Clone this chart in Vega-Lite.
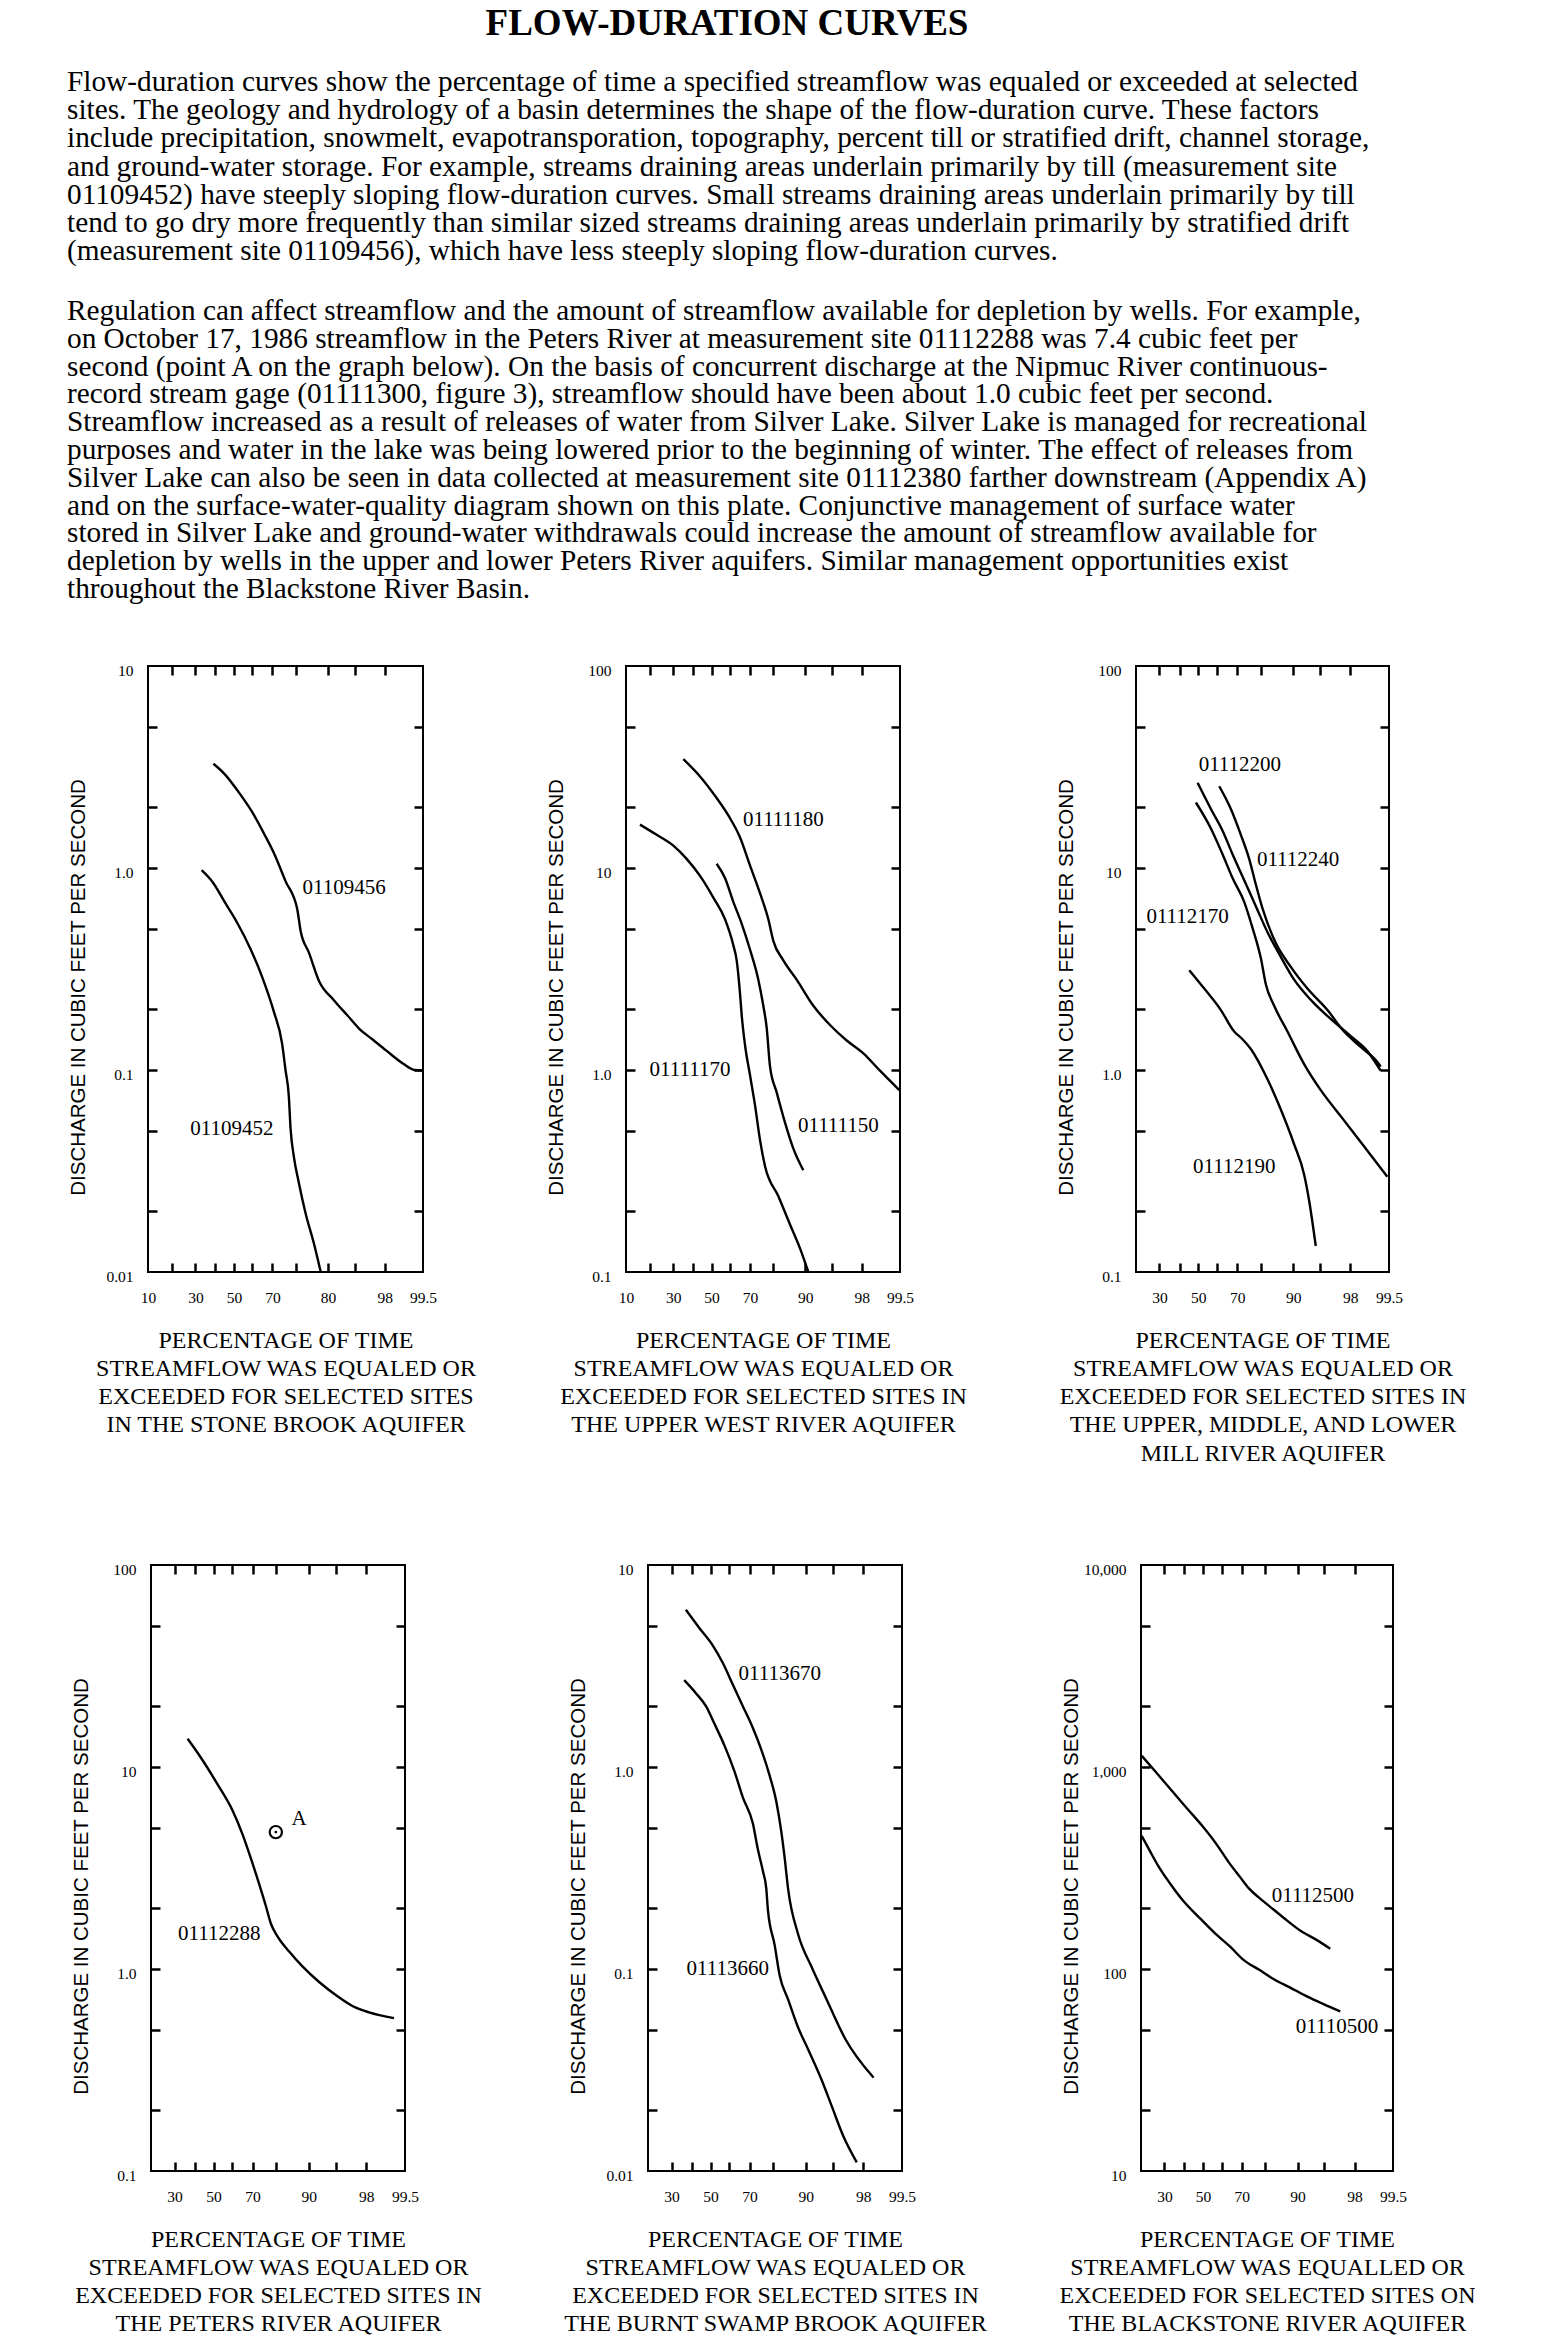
{
  "$schema": "https://vega.github.io/schema/vega-lite/v6.json",
  "padding": 0,
  "background": "white",
  "columns": 6,
  "bounds": "flush",
  "spacing": 0,
  "concat": [
    {
      "width": 1,
      "height": 666,
      "layer": [
        {
          "data": {"values": [{"line": 0, "text": "FLOW-DURATION CURVES"}]},
          "mark": {"type": "text", "align": "center", "baseline": "middle", "font": "Liberation Serif", "fontSize": 37, "fontWeight": "bold", "color": "black"},
          "encoding": {
            "x": {"value": 727},
            "y": {"field": "line", "type": "quantitative", "scale": {"domain": [0, 1], "range": [24, 52]}, "axis": null},
            "text": {"field": "text"}
          }
        },
        {
          "data": {"values": [
            {"line": 0, "text": "Flow-duration curves show the percentage of time a specified streamflow was equaled or exceeded at selected"},
            {"line": 1, "text": "sites.  The geology and hydrology of a basin determines the shape of the flow-duration curve.  These factors"},
            {"line": 2, "text": "include precipitation, snowmelt, evapotransporation, topography, percent till or stratified drift, channel storage,"},
            {"line": 3, "text": "and ground-water storage.  For example, streams draining areas underlain primarily by till (measurement site"},
            {"line": 4, "text": "01109452) have steeply sloping flow-duration curves. Small streams draining areas underlain primarily by till"},
            {"line": 5, "text": "tend to go dry more frequently than similar sized streams draining areas underlain primarily by stratified drift"},
            {"line": 6, "text": "(measurement site 01109456), which have less steeply sloping flow-duration curves."}
          ]},
          "mark": {"type": "text", "align": "left", "baseline": "middle", "font": "Liberation Serif", "fontSize": 29.3, "color": "black"},
          "encoding": {
            "x": {"value": 67},
            "y": {"field": "line", "type": "quantitative", "scale": {"domain": [0, 6], "range": [82, 251]}, "axis": null},
            "text": {"field": "text"}
          }
        },
        {
          "data": {"values": [
            {"line": 0, "text": "Regulation can affect streamflow and the amount of streamflow available for depletion by wells. For example,"},
            {"line": 1, "text": "on October 17, 1986 streamflow in the Peters River at measurement site 01112288 was 7.4 cubic feet per"},
            {"line": 2, "text": "second (point A on the graph below).  On the basis of concurrent discharge at the Nipmuc River continuous-"},
            {"line": 3, "text": "record stream gage (01111300, figure 3), streamflow should have been about 1.0 cubic feet per second."},
            {"line": 4, "text": "Streamflow increased as a result of releases of water from Silver Lake.  Silver Lake is managed for recreational"},
            {"line": 5, "text": "purposes and water in the lake was being lowered prior to the beginning of winter.  The effect of releases from"},
            {"line": 6, "text": "Silver Lake can also be seen in data collected at measurement site 01112380 farther downstream (Appendix A)"},
            {"line": 7, "text": "and on the surface-water-quality diagram shown on this plate.  Conjunctive management of surface water"},
            {"line": 8, "text": "stored in Silver Lake and ground-water withdrawals could increase the amount of streamflow available for"},
            {"line": 9, "text": "depletion by wells in the upper and lower Peters River aquifers.  Similar management opportunities exist"},
            {"line": 10, "text": "throughout the Blackstone River Basin."}
          ]},
          "mark": {"type": "text", "align": "left", "baseline": "middle", "font": "Liberation Serif", "fontSize": 29.3, "color": "black"},
          "encoding": {
            "x": {"value": 67},
            "y": {"field": "line", "type": "quantitative", "scale": {"domain": [0, 10], "range": [311, 589]}, "axis": null},
            "text": {"field": "text"}
          }
        }
      ],
      "resolve": {"scale": {"y": "independent"}}
    },
    {"width": 1, "height": 1, "data": {"values": []}, "mark": {"type": "point", "opacity": 0}, "encoding": {}},
    {"width": 1, "height": 1, "data": {"values": []}, "mark": {"type": "point", "opacity": 0}, "encoding": {}},
    {"width": 1, "height": 1, "data": {"values": []}, "mark": {"type": "point", "opacity": 0}, "encoding": {}},
    {"width": 1, "height": 1, "data": {"values": []}, "mark": {"type": "point", "opacity": 0}, "encoding": {}},
    {"width": 1, "height": 1, "data": {"values": []}, "mark": {"type": "point", "opacity": 0}, "encoding": {}},

    {"width": 148, "height": 1, "data": {"values": []}, "mark": {"type": "point", "opacity": 0}, "encoding": {}},
    {
      "width": 275,
      "height": 606,
      "layer": [
        {
          "data": {"values": [{}]},
          "mark": {"type": "rect", "filled": false, "stroke": "black", "strokeWidth": 2},
          "encoding": {
            "x": {"datum": -1.17, "type": "quantitative", "scale": {"domain": [-1.17, 2.5758], "range": [0, 275], "nice": false, "zero": false}, "axis": null},
            "x2": {"datum": 2.5758},
            "y": {"datum": 0.01, "type": "quantitative", "scale": {"type": "log", "domain": [0.01, 10], "nice": false}, "axis": null},
            "y2": {"datum": 10}
          }
        },
        {
          "data": {"values": [
            {"site": "01109456", "z": -0.279, "q": 3.28}, {"site": "01109456", "z": -0.120, "q": 2.90}, {"site": "01109456", "z": 0.063, "q": 2.38},
            {"site": "01109456", "z": 0.246, "q": 1.90}, {"site": "01109456", "z": 0.406, "q": 1.49}, {"site": "01109456", "z": 0.543, "q": 1.19},
            {"site": "01109456", "z": 0.703, "q": 0.861}, {"site": "01109456", "z": 0.863, "q": 0.625}, {"site": "01109456", "z": 0.909, "q": 0.488},
            {"site": "01109456", "z": 1.022, "q": 0.381}, {"site": "01109456", "z": 1.159, "q": 0.276}, {"site": "01109456", "z": 1.365, "q": 0.221},
            {"site": "01109456", "z": 1.548, "q": 0.186}, {"site": "01109456", "z": 1.708, "q": 0.160}, {"site": "01109456", "z": 1.890, "q": 0.1415},
            {"site": "01109456", "z": 2.073, "q": 0.125}, {"site": "01109456", "z": 2.302, "q": 0.1077}, {"site": "01109456", "z": 2.461, "q": 0.100},
            {"site": "01109456", "z": 2.576, "q": 0.0995},
            {"site": "01109452", "z": -0.439, "q": 0.975}, {"site": "01109452", "z": -0.279, "q": 0.841}, {"site": "01109452", "z": -0.120, "q": 0.673},
            {"site": "01109452", "z": 0.041, "q": 0.539}, {"site": "01109452", "z": 0.223, "q": 0.400}, {"site": "01109452", "z": 0.383, "q": 0.290},
            {"site": "01109452", "z": 0.543, "q": 0.195}, {"site": "01109452", "z": 0.657, "q": 0.1346}, {"site": "01109452", "z": 0.703, "q": 0.100},
            {"site": "01109452", "z": 0.748, "q": 0.0743}, {"site": "01109452", "z": 0.772, "q": 0.0513}, {"site": "01109452", "z": 0.817, "q": 0.0372},
            {"site": "01109452", "z": 0.885, "q": 0.0276}, {"site": "01109452", "z": 0.977, "q": 0.0195}, {"site": "01109452", "z": 1.091, "q": 0.0138},
            {"site": "01109452", "z": 1.183, "q": 0.0100}
          ]},
          "mark": {"type": "line"},
          "encoding": {
            "x": {"field": "z", "type": "quantitative", "scale": {"domain": [-1.17, 2.5758], "range": [0, 275], "nice": false, "zero": false},
              "axis": {"orient": "bottom", "values": [-1.17, -0.8416, -0.5244, -0.2533, 0, 0.2533, 0.5244, 0.8416, 1.2816, 1.6449, 2.0537, 2.5758],
                "labelExpr": "abs(datum.value+1.17)<0.01?'10':abs(datum.value+0.5244)<0.01?'30':abs(datum.value)<0.01?'50':abs(datum.value-0.5244)<0.01?'70':abs(datum.value-1.2816)<0.01?'80':abs(datum.value-2.0537)<0.01?'98':abs(datum.value-2.5758)<0.01?'99.5':''",
                "tickOpacity": {"condition": {"test": "datum.value<-1.1||datum.value>2.5", "value": 0}, "value": 1},
                "title": ["PERCENTAGE OF TIME", "STREAMFLOW WAS EQUALED OR", "EXCEEDED FOR SELECTED SITES", "IN THE STONE BROOK AQUIFER"]}},
            "y": {"field": "q", "type": "quantitative", "scale": {"type": "log", "domain": [0.01, 10], "nice": false},
              "axis": {"orient": "left", "values": [0.01, 0.02, 0.05, 0.1, 0.2, 0.5, 1, 2, 5, 10],
                "labelExpr": "datum.value==0.01?'0.01':datum.value==0.1?'0.1':datum.value==1?'1.0':datum.value==10?'10':''",
                "tickOpacity": {"condition": {"test": "datum.value<0.011||datum.value>9.9", "value": 0}, "value": 1},
                "title": "DISCHARGE IN CUBIC FEET PER SECOND"}},
            "detail": {"field": "site"}
          }
        },
        {
          "data": {"values": [
            {"label": "01109456", "z": 1.502, "q": 0.80},
            {"label": "01109452", "z": -0.027, "q": 0.0513}
          ]},
          "mark": {"type": "text", "align": "center", "baseline": "middle"},
          "encoding": {
            "x": {"field": "z", "type": "quantitative", "scale": {"domain": [-1.17, 2.5758], "range": [0, 275], "nice": false, "zero": false},
              "axis": {"orient": "top", "values": [-0.8416, -0.5244, -0.2533, 0, 0.2533, 0.5244, 0.8416, 1.2816, 1.6449, 2.0537], "labels": false, "title": null}},
            "y": {"field": "q", "type": "quantitative", "scale": {"type": "log", "domain": [0.01, 10], "nice": false},
              "axis": {"orient": "right", "values": [0.02, 0.05, 0.1, 0.2, 0.5, 1, 2, 5], "labels": false, "title": null}},
            "text": {"field": "label"}
          }
        }
      ],
      "resolve": {"axis": {"x": "independent", "y": "independent"}}
    },
    {"width": 203, "height": 1, "data": {"values": []}, "mark": {"type": "point", "opacity": 0}, "encoding": {}},
    {
      "width": 276,
      "height": 606,
      "layer": [
        {
          "data": {"values": [{}]},
          "mark": {"type": "rect", "filled": false, "stroke": "black", "strokeWidth": 2},
          "encoding": {
            "x": {"datum": -1.17, "type": "quantitative", "scale": {"domain": [-1.17, 2.5758], "range": [0, 274], "nice": false, "zero": false}, "axis": null},
            "x2": {"datum": 2.5758},
            "y": {"datum": 0.1, "type": "quantitative", "scale": {"type": "log", "domain": [0.1, 100], "nice": false}, "axis": null},
            "y2": {"datum": 100}
          }
        },
        {
          "data": {"values": [
            {"site": "01111180", "z": -0.386, "q": 34.6}, {"site": "01111180", "z": -0.158, "q": 28.4}, {"site": "01111180", "z": 0.069, "q": 22.2},
            {"site": "01111180", "z": 0.229, "q": 18.2}, {"site": "01111180", "z": 0.388, "q": 14.2}, {"site": "01111180", "z": 0.525, "q": 10.3},
            {"site": "01111180", "z": 0.662, "q": 7.50}, {"site": "01111180", "z": 0.776, "q": 5.58}, {"site": "01111180", "z": 0.844, "q": 4.36},
            {"site": "01111180", "z": 0.981, "q": 3.49}, {"site": "01111180", "z": 1.163, "q": 2.80}, {"site": "01111180", "z": 1.391, "q": 2.08},
            {"site": "01111180", "z": 1.619, "q": 1.67}, {"site": "01111180", "z": 1.847, "q": 1.40}, {"site": "01111180", "z": 2.075, "q": 1.21},
            {"site": "01111180", "z": 2.302, "q": 0.992}, {"site": "01111180", "z": 2.567, "q": 0.795},
            {"site": "01111170", "z": -0.979, "q": 16.4}, {"site": "01111170", "z": -0.751, "q": 14.6}, {"site": "01111170", "z": -0.523, "q": 12.9},
            {"site": "01111170", "z": -0.341, "q": 11.1}, {"site": "01111170", "z": -0.158, "q": 9.14}, {"site": "01111170", "z": 0.024, "q": 7.14},
            {"site": "01111170", "z": 0.183, "q": 5.58}, {"site": "01111170", "z": 0.297, "q": 4.15}, {"site": "01111170", "z": 0.343, "q": 3.49},
            {"site": "01111170", "z": 0.388, "q": 2.41}, {"site": "01111170", "z": 0.411, "q": 1.88}, {"site": "01111170", "z": 0.457, "q": 1.33},
            {"site": "01111170", "z": 0.525, "q": 0.944}, {"site": "01111170", "z": 0.594, "q": 0.668}, {"site": "01111170", "z": 0.662, "q": 0.450},
            {"site": "01111170", "z": 0.730, "q": 0.335}, {"site": "01111170", "z": 0.913, "q": 0.237}, {"site": "01111170", "z": 1.072, "q": 0.172},
            {"site": "01111170", "z": 1.209, "q": 0.131}, {"site": "01111170", "z": 1.323, "q": 0.100},
            {"site": "01111150", "z": 0.069, "q": 10.5}, {"site": "01111150", "z": 0.183, "q": 8.92}, {"site": "01111150", "z": 0.297, "q": 6.80},
            {"site": "01111150", "z": 0.411, "q": 5.31}, {"site": "01111150", "z": 0.525, "q": 3.95}, {"site": "01111150", "z": 0.639, "q": 2.80},
            {"site": "01111150", "z": 0.707, "q": 2.08}, {"site": "01111150", "z": 0.753, "q": 1.62}, {"site": "01111150", "z": 0.799, "q": 1.04},
            {"site": "01111150", "z": 0.890, "q": 0.775}, {"site": "01111150", "z": 1.004, "q": 0.549}, {"site": "01111150", "z": 1.118, "q": 0.408},
            {"site": "01111150", "z": 1.254, "q": 0.319}
          ]},
          "mark": {"type": "line"},
          "encoding": {
            "x": {"field": "z", "type": "quantitative", "scale": {"domain": [-1.17, 2.5758], "range": [0, 274], "nice": false, "zero": false},
              "axis": {"orient": "bottom", "values": [-1.17, -0.8416, -0.5244, -0.2533, 0, 0.2533, 0.5244, 0.8416, 1.2816, 1.6449, 2.0537, 2.5758],
                "labelExpr": "abs(datum.value+1.17)<0.01?'10':abs(datum.value+0.5244)<0.01?'30':abs(datum.value)<0.01?'50':abs(datum.value-0.5244)<0.01?'70':abs(datum.value-1.2816)<0.01?'90':abs(datum.value-2.0537)<0.01?'98':abs(datum.value-2.5758)<0.01?'99.5':''",
                "tickOpacity": {"condition": {"test": "datum.value<-1.1||datum.value>2.5", "value": 0}, "value": 1},
                "title": ["PERCENTAGE OF TIME", "STREAMFLOW WAS EQUALED OR", "EXCEEDED FOR SELECTED SITES IN", "THE UPPER WEST RIVER AQUIFER"]}},
            "y": {"field": "q", "type": "quantitative", "scale": {"type": "log", "domain": [0.1, 100], "nice": false},
              "axis": {"orient": "left", "values": [0.1, 0.2, 0.5, 1, 2, 5, 10, 20, 50, 100],
                "labelExpr": "datum.value==0.1?'0.1':datum.value==1?'1.0':datum.value==10?'10':datum.value==100?'100':''",
                "tickOpacity": {"condition": {"test": "datum.value<0.11||datum.value>99", "value": 0}, "value": 1},
                "title": "DISCHARGE IN CUBIC FEET PER SECOND"}},
            "detail": {"field": "site"}
          }
        },
        {
          "data": {"values": [
            {"label": "01111180", "z": 0.981, "q": 17.2},
            {"label": "01111170", "z": -0.295, "q": 1.0},
            {"label": "01111150", "z": 1.733, "q": 0.528}
          ]},
          "mark": {"type": "text", "align": "center", "baseline": "middle"},
          "encoding": {
            "x": {"field": "z", "type": "quantitative", "scale": {"domain": [-1.17, 2.5758], "range": [0, 274], "nice": false, "zero": false},
              "axis": {"orient": "top", "values": [-0.8416, -0.5244, -0.2533, 0, 0.2533, 0.5244, 0.8416, 1.2816, 1.6449, 2.0537], "labels": false, "title": null}},
            "y": {"field": "q", "type": "quantitative", "scale": {"type": "log", "domain": [0.1, 100], "nice": false},
              "axis": {"orient": "right", "offset": -2, "values": [0.2, 0.5, 1, 2, 5, 10, 20, 50], "labels": false, "title": null}},
            "text": {"field": "label"}
          }
        }
      ],
      "resolve": {"axis": {"x": "independent", "y": "independent"}}
    },
    {"width": 234, "height": 1, "data": {"values": []}, "mark": {"type": "point", "opacity": 0}, "encoding": {}},
    {
      "width": 257,
      "height": 606,
      "layer": [
        {
          "data": {"values": [{}]},
          "mark": {"type": "rect", "filled": false, "stroke": "black", "strokeWidth": 2},
          "encoding": {
            "x": {"datum": -0.8416, "type": "quantitative", "scale": {"domain": [-0.8416, 2.5758], "range": [0, 253], "nice": false, "zero": false}, "axis": null},
            "x2": {"datum": 2.5758},
            "y": {"datum": 0.1, "type": "quantitative", "scale": {"type": "log", "domain": [0.1, 100], "nice": false}, "axis": null},
            "y2": {"datum": 100}
          }
        },
        {
          "data": {"values": [
            {"site": "01112200", "z": -0.0097, "q": 26.4}, {"site": "01112200", "z": 0.1701, "q": 19.6}, {"site": "01112200", "z": 0.3275, "q": 15.3},
            {"site": "01112200", "z": 0.4624, "q": 11.7}, {"site": "01112200", "z": 0.6198, "q": 8.70}, {"site": "01112200", "z": 0.7772, "q": 6.47},
            {"site": "01112200", "z": 0.9346, "q": 4.81}, {"site": "01112200", "z": 1.0919, "q": 3.76}, {"site": "01112200", "z": 1.2943, "q": 2.80},
            {"site": "01112200", "z": 1.5416, "q": 2.18}, {"site": "01112200", "z": 1.7889, "q": 1.79}, {"site": "01112200", "z": 2.0587, "q": 1.47},
            {"site": "01112200", "z": 2.2835, "q": 1.24}, {"site": "01112200", "z": 2.4634, "q": 0.992},
            {"site": "01112240", "z": 0.2826, "q": 25.4}, {"site": "01112240", "z": 0.4399, "q": 19.6}, {"site": "01112240", "z": 0.5748, "q": 14.6},
            {"site": "01112240", "z": 0.6872, "q": 11.1}, {"site": "01112240", "z": 0.7772, "q": 8.28}, {"site": "01112240", "z": 0.8671, "q": 6.31},
            {"site": "01112240", "z": 1.0470, "q": 4.25}, {"site": "01112240", "z": 1.2493, "q": 3.24}, {"site": "01112240", "z": 1.4741, "q": 2.53},
            {"site": "01112240", "z": 1.7439, "q": 1.98}, {"site": "01112240", "z": 1.9688, "q": 1.55}, {"site": "01112240", "z": 2.1936, "q": 1.30},
            {"site": "01112240", "z": 2.4409, "q": 1.07}, {"site": "01112240", "z": 2.4634, "q": 1.04},
            {"site": "01112170", "z": -0.0322, "q": 21.1}, {"site": "01112170", "z": 0.1701, "q": 15.7}, {"site": "01112170", "z": 0.3275, "q": 11.7},
            {"site": "01112170", "z": 0.4624, "q": 8.92}, {"site": "01112170", "z": 0.6198, "q": 6.80}, {"site": "01112170", "z": 0.7322, "q": 5.05},
            {"site": "01112170", "z": 0.8446, "q": 3.58}, {"site": "01112170", "z": 0.9121, "q": 2.66}, {"site": "01112170", "z": 1.0245, "q": 2.08},
            {"site": "01112170", "z": 1.2044, "q": 1.55}, {"site": "01112170", "z": 1.4292, "q": 1.07}, {"site": "01112170", "z": 1.6540, "q": 0.795},
            {"site": "01112170", "z": 1.9238, "q": 0.591}, {"site": "01112170", "z": 2.1936, "q": 0.440}, {"site": "01112170", "z": 2.5533, "q": 0.296},
            {"site": "01112190", "z": -0.1221, "q": 3.12}, {"site": "01112190", "z": 0.0802, "q": 2.53}, {"site": "01112190", "z": 0.3050, "q": 1.98},
            {"site": "01112190", "z": 0.4849, "q": 1.55}, {"site": "01112190", "z": 0.5973, "q": 1.42}, {"site": "01112190", "z": 0.7097, "q": 1.27},
            {"site": "01112190", "z": 0.9346, "q": 0.899}, {"site": "01112190", "z": 1.1144, "q": 0.637}, {"site": "01112190", "z": 1.2943, "q": 0.429},
            {"site": "01112190", "z": 1.4292, "q": 0.304}, {"site": "01112190", "z": 1.4966, "q": 0.226}, {"site": "01112190", "z": 1.5866, "q": 0.1345}
          ]},
          "mark": {"type": "line"},
          "encoding": {
            "x": {"field": "z", "type": "quantitative", "scale": {"domain": [-0.8416, 2.5758], "range": [0, 253], "nice": false, "zero": false},
              "axis": {"orient": "bottom", "values": [-0.5244, -0.2533, 0, 0.2533, 0.5244, 0.8416, 1.2816, 1.6449, 2.0537, 2.5758],
                "labelExpr": "abs(datum.value+0.5244)<0.01?'30':abs(datum.value)<0.01?'50':abs(datum.value-0.5244)<0.01?'70':abs(datum.value-1.2816)<0.01?'90':abs(datum.value-2.0537)<0.01?'98':abs(datum.value-2.5758)<0.01?'99.5':''",
                "tickOpacity": {"condition": {"test": "datum.value>2.5", "value": 0}, "value": 1},
                "title": ["PERCENTAGE OF TIME", "STREAMFLOW WAS EQUALED OR", "EXCEEDED FOR SELECTED SITES IN", "THE UPPER, MIDDLE, AND LOWER", "MILL RIVER AQUIFER"]}},
            "y": {"field": "q", "type": "quantitative", "scale": {"type": "log", "domain": [0.1, 100], "nice": false},
              "axis": {"orient": "left", "values": [0.1, 0.2, 0.5, 1, 2, 5, 10, 20, 50, 100],
                "labelExpr": "datum.value==0.1?'0.1':datum.value==1?'1.0':datum.value==10?'10':datum.value==100?'100':''",
                "tickOpacity": {"condition": {"test": "datum.value<0.11||datum.value>99", "value": 0}, "value": 1},
                "title": "DISCHARGE IN CUBIC FEET PER SECOND"}},
            "detail": {"field": "site"}
          }
        },
        {
          "data": {"values": [
            {"label": "01112200", "z": 0.5613, "q": 32.2},
            {"label": "01112240", "z": 1.3482, "q": 10.9},
            {"label": "01112170", "z": -0.1446, "q": 5.72},
            {"label": "01112190", "z": 0.4849, "q": 0.332}
          ]},
          "mark": {"type": "text", "align": "center", "baseline": "middle"},
          "encoding": {
            "x": {"field": "z", "type": "quantitative", "scale": {"domain": [-0.8416, 2.5758], "range": [0, 253], "nice": false, "zero": false},
              "axis": {"orient": "top", "values": [-0.5244, -0.2533, 0, 0.2533, 0.5244, 0.8416, 1.2816, 1.6449, 2.0537], "labels": false, "title": null}},
            "y": {"field": "q", "type": "quantitative", "scale": {"type": "log", "domain": [0.1, 100], "nice": false},
              "axis": {"orient": "right", "offset": -4, "values": [0.2, 0.5, 1, 2, 5, 10, 20, 50], "labels": false, "title": null}},
            "text": {"field": "label"}
          }
        }
      ],
      "resolve": {"axis": {"x": "independent", "y": "independent"}}
    },

    {"width": 1, "height": 293, "data": {"values": []}, "mark": {"type": "point", "opacity": 0}, "encoding": {}},
    {"width": 1, "height": 1, "data": {"values": []}, "mark": {"type": "point", "opacity": 0}, "encoding": {}},
    {"width": 1, "height": 1, "data": {"values": []}, "mark": {"type": "point", "opacity": 0}, "encoding": {}},
    {"width": 1, "height": 1, "data": {"values": []}, "mark": {"type": "point", "opacity": 0}, "encoding": {}},
    {"width": 1, "height": 1, "data": {"values": []}, "mark": {"type": "point", "opacity": 0}, "encoding": {}},
    {"width": 1, "height": 1, "data": {"values": []}, "mark": {"type": "point", "opacity": 0}, "encoding": {}},

    {"width": 148, "height": 1, "data": {"values": []}, "mark": {"type": "point", "opacity": 0}, "encoding": {}},
    {
      "width": 275,
      "height": 606,
      "layer": [
        {
          "data": {"values": [{}]},
          "mark": {"type": "rect", "filled": false, "stroke": "black", "strokeWidth": 2},
          "encoding": {
            "x": {"datum": -0.8416, "type": "quantitative", "scale": {"domain": [-0.8416, 2.5758], "range": [3, 257], "nice": false, "zero": false}, "axis": null},
            "x2": {"datum": 2.5758},
            "y": {"datum": 0.1, "type": "quantitative", "scale": {"type": "log", "domain": [0.1, 100], "nice": false}, "axis": null},
            "y2": {"datum": 100}
          }
        },
        {
          "data": {"values": [
            {"site": "01112288", "z": -0.3489, "q": 13.8}, {"site": "01112288", "z": -0.1474, "q": 10.8}, {"site": "01112288", "z": 0.0542, "q": 8.20},
            {"site": "01112288", "z": 0.2558, "q": 6.09}, {"site": "01112288", "z": 0.3901, "q": 4.64}, {"site": "01112288", "z": 0.5021, "q": 3.53},
            {"site": "01112288", "z": 0.6141, "q": 2.63}, {"site": "01112288", "z": 0.7037, "q": 2.05}, {"site": "01112288", "z": 0.7708, "q": 1.68},
            {"site": "01112288", "z": 0.8604, "q": 1.45}, {"site": "01112288", "z": 1.0172, "q": 1.22}, {"site": "01112288", "z": 1.1963, "q": 1.03},
            {"site": "01112288", "z": 1.4203, "q": 0.862}, {"site": "01112288", "z": 1.6442, "q": 0.743}, {"site": "01112288", "z": 1.8682, "q": 0.656},
            {"site": "01112288", "z": 2.0921, "q": 0.610}, {"site": "01112288", "z": 2.4281, "q": 0.571}
          ]},
          "mark": {"type": "line"},
          "encoding": {
            "x": {"field": "z", "type": "quantitative", "scale": {"domain": [-0.8416, 2.5758], "range": [3, 257], "nice": false, "zero": false},
              "axis": {"orient": "bottom", "values": [-0.5244, -0.2533, 0, 0.2533, 0.5244, 0.8416, 1.2816, 1.6449, 2.0537, 2.5758],
                "labelExpr": "abs(datum.value+0.5244)<0.01?'30':abs(datum.value)<0.01?'50':abs(datum.value-0.5244)<0.01?'70':abs(datum.value-1.2816)<0.01?'90':abs(datum.value-2.0537)<0.01?'98':abs(datum.value-2.5758)<0.01?'99.5':''",
                "tickOpacity": {"condition": {"test": "datum.value>2.5", "value": 0}, "value": 1},
                "title": ["PERCENTAGE OF TIME", "STREAMFLOW WAS EQUALED OR", "EXCEEDED FOR SELECTED SITES IN", "THE PETERS RIVER AQUIFER"]}},
            "y": {"field": "q", "type": "quantitative", "scale": {"type": "log", "domain": [0.1, 100], "nice": false},
              "axis": {"orient": "left", "offset": -3, "values": [0.1, 0.2, 0.5, 1, 2, 5, 10, 20, 50, 100],
                "labelExpr": "datum.value==0.1?'0.1':datum.value==1?'1.0':datum.value==10?'10':datum.value==100?'100':''",
                "tickOpacity": {"condition": {"test": "datum.value<0.11||datum.value>99", "value": 0}, "value": 1},
                "title": "DISCHARGE IN CUBIC FEET PER SECOND"}},
            "detail": {"field": "site"}
          }
        },
        {
          "data": {"values": [
            {"label": "01112288", "z": 0.0766, "q": 1.486},
            {"label": "A", "z": 1.1516, "q": 5.52}
          ]},
          "mark": {"type": "text", "align": "center", "baseline": "middle"},
          "encoding": {
            "x": {"field": "z", "type": "quantitative", "scale": {"domain": [-0.8416, 2.5758], "range": [3, 257], "nice": false, "zero": false},
              "axis": {"orient": "top", "values": [-0.5244, -0.2533, 0, 0.2533, 0.5244, 0.8416, 1.2816, 1.6449, 2.0537], "labels": false, "title": null}},
            "y": {"field": "q", "type": "quantitative", "scale": {"type": "log", "domain": [0.1, 100], "nice": false},
              "axis": {"orient": "right", "offset": -18, "values": [0.2, 0.5, 1, 2, 5, 10, 20, 50], "labels": false, "title": null}},
            "text": {"field": "label"}
          }
        },
        {
          "data": {"values": [{"point": "A", "z": 0.838, "q": 4.76}]},
          "mark": {"type": "point", "shape": "circle", "filled": false, "size": 150, "strokeWidth": 2.2, "color": "black", "opacity": 1},
          "encoding": {
            "x": {"field": "z", "type": "quantitative", "scale": {"domain": [-0.8416, 2.5758], "range": [3, 257], "nice": false, "zero": false}, "axis": null},
            "y": {"field": "q", "type": "quantitative", "scale": {"type": "log", "domain": [0.1, 100], "nice": false}, "axis": null}
          }
        },
        {
          "data": {"values": [{"point": "A", "z": 0.838, "q": 4.76}]},
          "mark": {"type": "point", "shape": "circle", "filled": true, "size": 8, "color": "black", "opacity": 1},
          "encoding": {
            "x": {"field": "z", "type": "quantitative", "scale": {"domain": [-0.8416, 2.5758], "range": [3, 257], "nice": false, "zero": false}, "axis": null},
            "y": {"field": "q", "type": "quantitative", "scale": {"type": "log", "domain": [0.1, 100], "nice": false}, "axis": null}
          }
        }
      ],
      "resolve": {"axis": {"x": "independent", "y": "independent"}}
    },
    {"width": 203, "height": 1, "data": {"values": []}, "mark": {"type": "point", "opacity": 0}, "encoding": {}},
    {
      "width": 276,
      "height": 606,
      "layer": [
        {
          "data": {"values": [{}]},
          "mark": {"type": "rect", "filled": false, "stroke": "black", "strokeWidth": 2},
          "encoding": {
            "x": {"datum": -0.8416, "type": "quantitative", "scale": {"domain": [-0.8416, 2.5758], "range": [22, 276], "nice": false, "zero": false}, "axis": null},
            "x2": {"datum": 2.5758},
            "y": {"datum": 0.01, "type": "quantitative", "scale": {"type": "log", "domain": [0.01, 10], "nice": false}, "axis": null},
            "y2": {"datum": 10}
          }
        },
        {
          "data": {"values": [
            {"site": "01113670", "z": -0.3321, "q": 6.00}, {"site": "01113670", "z": -0.1518, "q": 4.88}, {"site": "01113670", "z": 0.0285, "q": 4.00},
            {"site": "01113670", "z": 0.1638, "q": 3.28}, {"site": "01113670", "z": 0.2991, "q": 2.56}, {"site": "01113670", "z": 0.4343, "q": 2.00},
            {"site": "01113670", "z": 0.5696, "q": 1.56}, {"site": "01113670", "z": 0.6823, "q": 1.22}, {"site": "01113670", "z": 0.7950, "q": 0.906},
            {"site": "01113670", "z": 0.8852, "q": 0.673}, {"site": "01113670", "z": 0.9528, "q": 0.476}, {"site": "01113670", "z": 0.9979, "q": 0.353},
            {"site": "01113670", "z": 1.0430, "q": 0.250}, {"site": "01113670", "z": 1.1782, "q": 0.1486}, {"site": "01113670", "z": 1.3585, "q": 0.1025},
            {"site": "01113670", "z": 1.5614, "q": 0.0707}, {"site": "01113670", "z": 1.8094, "q": 0.0453}, {"site": "01113670", "z": 2.1926, "q": 0.0290},
            {"site": "01113660", "z": -0.3547, "q": 2.69}, {"site": "01113660", "z": -0.1969, "q": 2.32}, {"site": "01113660", "z": -0.0616, "q": 2.00},
            {"site": "01113660", "z": 0.0511, "q": 1.64}, {"site": "01113660", "z": 0.1863, "q": 1.28}, {"site": "01113660", "z": 0.3216, "q": 0.952},
            {"site": "01113660", "z": 0.4343, "q": 0.707}, {"site": "01113660", "z": 0.5696, "q": 0.525}, {"site": "01113660", "z": 0.6372, "q": 0.390},
            {"site": "01113660", "z": 0.7048, "q": 0.305}, {"site": "01113660", "z": 0.7499, "q": 0.250}, {"site": "01113660", "z": 0.7724, "q": 0.195},
            {"site": "01113660", "z": 0.8626, "q": 0.1313}, {"site": "01113660", "z": 0.9302, "q": 0.0928}, {"site": "01113660", "z": 1.0430, "q": 0.0707},
            {"site": "01113660", "z": 1.1782, "q": 0.0513}, {"site": "01113660", "z": 1.3135, "q": 0.0400}, {"site": "01113660", "z": 1.4938, "q": 0.0283},
            {"site": "01113660", "z": 1.6291, "q": 0.0210}, {"site": "01113660", "z": 1.7869, "q": 0.01486}, {"site": "01113660", "z": 1.9672, "q": 0.01104}
          ]},
          "mark": {"type": "line"},
          "encoding": {
            "x": {"field": "z", "type": "quantitative", "scale": {"domain": [-0.8416, 2.5758], "range": [22, 276], "nice": false, "zero": false},
              "axis": {"orient": "bottom", "values": [-0.5244, -0.2533, 0, 0.2533, 0.5244, 0.8416, 1.2816, 1.6449, 2.0537, 2.5758],
                "labelExpr": "abs(datum.value+0.5244)<0.01?'30':abs(datum.value)<0.01?'50':abs(datum.value-0.5244)<0.01?'70':abs(datum.value-1.2816)<0.01?'90':abs(datum.value-2.0537)<0.01?'98':abs(datum.value-2.5758)<0.01?'99.5':''",
                "tickOpacity": {"condition": {"test": "datum.value>2.5", "value": 0}, "value": 1},
                "title": ["PERCENTAGE OF TIME", "STREAMFLOW WAS EQUALED OR", "EXCEEDED FOR SELECTED SITES IN", "THE BURNT SWAMP BROOK AQUIFER"]}},
            "y": {"field": "q", "type": "quantitative", "scale": {"type": "log", "domain": [0.01, 10], "nice": false},
              "axis": {"orient": "left", "offset": -22, "values": [0.01, 0.02, 0.05, 0.1, 0.2, 0.5, 1, 2, 5, 10],
                "labelExpr": "datum.value==0.01?'0.01':datum.value==0.1?'0.1':datum.value==1?'1.0':datum.value==10?'10':''",
                "tickOpacity": {"condition": {"test": "datum.value<0.011||datum.value>9.9", "value": 0}, "value": 1},
                "title": "DISCHARGE IN CUBIC FEET PER SECOND"}},
            "detail": {"field": "site"}
          }
        },
        {
          "data": {"values": [
            {"label": "01113670", "z": 0.9302, "q": 2.90},
            {"label": "01113660", "z": 0.2314, "q": 0.100}
          ]},
          "mark": {"type": "text", "align": "center", "baseline": "middle"},
          "encoding": {
            "x": {"field": "z", "type": "quantitative", "scale": {"domain": [-0.8416, 2.5758], "range": [22, 276], "nice": false, "zero": false},
              "axis": {"orient": "top", "values": [-0.5244, -0.2533, 0, 0.2533, 0.5244, 0.8416, 1.2816, 1.6449, 2.0537], "labels": false, "title": null}},
            "y": {"field": "q", "type": "quantitative", "scale": {"type": "log", "domain": [0.01, 10], "nice": false},
              "axis": {"orient": "right", "values": [0.02, 0.05, 0.1, 0.2, 0.5, 1, 2, 5], "labels": false, "title": null}},
            "text": {"field": "label"}
          }
        }
      ],
      "resolve": {"axis": {"x": "independent", "y": "independent"}}
    },
    {"width": 234, "height": 1, "data": {"values": []}, "mark": {"type": "point", "opacity": 0}, "encoding": {}},
    {
      "width": 257,
      "height": 606,
      "layer": [
        {
          "data": {"values": [{}]},
          "mark": {"type": "rect", "filled": false, "stroke": "black", "strokeWidth": 2},
          "encoding": {
            "x": {"datum": -0.8416, "type": "quantitative", "scale": {"domain": [-0.8416, 2.5758], "range": [5, 257], "nice": false, "zero": false}, "axis": null},
            "x2": {"datum": 2.5758},
            "y": {"datum": 10, "type": "quantitative", "scale": {"type": "log", "domain": [10, 10000], "nice": false}, "axis": null},
            "y2": {"datum": 10000}
          }
        },
        {
          "data": {"values": [
            {"site": "01112500", "z": -0.8325, "q": 1137}, {"site": "01112500", "z": -0.6289, "q": 933}, {"site": "01112500", "z": -0.4025, "q": 747},
            {"site": "01112500", "z": -0.1989, "q": 613}, {"site": "01112500", "z": 0.0048, "q": 503}, {"site": "01112500", "z": 0.1859, "q": 413},
            {"site": "01112500", "z": 0.3443, "q": 339}, {"site": "01112500", "z": 0.5027, "q": 285}, {"site": "01112500", "z": 0.6159, "q": 252},
            {"site": "01112500", "z": 0.7743, "q": 223}, {"site": "01112500", "z": 0.9554, "q": 197}, {"site": "01112500", "z": 1.1364, "q": 174},
            {"site": "01112500", "z": 1.3175, "q": 155}, {"site": "01112500", "z": 1.5438, "q": 139}, {"site": "01112500", "z": 1.7249, "q": 126},
            {"site": "01110500", "z": -0.8325, "q": 456}, {"site": "01110500", "z": -0.7194, "q": 383}, {"site": "01110500", "z": -0.6062, "q": 323},
            {"site": "01110500", "z": -0.4478, "q": 265}, {"site": "01110500", "z": -0.2667, "q": 217}, {"site": "01110500", "z": -0.0404, "q": 178},
            {"site": "01110500", "z": 0.1633, "q": 150}, {"site": "01110500", "z": 0.3669, "q": 129}, {"site": "01110500", "z": 0.5480, "q": 111},
            {"site": "01110500", "z": 0.7743, "q": 98.5}, {"site": "01110500", "z": 0.9554, "q": 89.2}, {"site": "01110500", "z": 1.1817, "q": 80.9},
            {"site": "01110500", "z": 1.4080, "q": 73.2}, {"site": "01110500", "z": 1.6343, "q": 67.0}, {"site": "01110500", "z": 1.8607, "q": 61.6}
          ]},
          "mark": {"type": "line"},
          "encoding": {
            "x": {"field": "z", "type": "quantitative", "scale": {"domain": [-0.8416, 2.5758], "range": [5, 257], "nice": false, "zero": false},
              "axis": {"orient": "bottom", "values": [-0.5244, -0.2533, 0, 0.2533, 0.5244, 0.8416, 1.2816, 1.6449, 2.0537, 2.5758],
                "labelExpr": "abs(datum.value+0.5244)<0.01?'30':abs(datum.value)<0.01?'50':abs(datum.value-0.5244)<0.01?'70':abs(datum.value-1.2816)<0.01?'90':abs(datum.value-2.0537)<0.01?'98':abs(datum.value-2.5758)<0.01?'99.5':''",
                "tickOpacity": {"condition": {"test": "datum.value>2.5", "value": 0}, "value": 1},
                "title": ["PERCENTAGE OF TIME", "STREAMFLOW WAS EQUALLED OR", "EXCEEDED FOR SELECTED SITES ON", "THE BLACKSTONE RIVER AQUIFER"]}},
            "y": {"field": "q", "type": "quantitative", "scale": {"type": "log", "domain": [10, 10000], "nice": false},
              "axis": {"orient": "left", "offset": -5, "values": [10, 20, 50, 100, 200, 500, 1000, 2000, 5000, 10000],
                "labelExpr": "datum.value==10?'10':datum.value==100?'100':datum.value==1000?'1,000':datum.value==10000?'10,000':''",
                "tickOpacity": {"condition": {"test": "datum.value<11||datum.value>9900", "value": 0}, "value": 1},
                "title": "DISCHARGE IN CUBIC FEET PER SECOND"}},
            "detail": {"field": "site"}
          }
        },
        {
          "data": {"values": [
            {"label": "01112500", "z": 1.4895, "q": 230},
            {"label": "01110500", "z": 1.8154, "q": 51.8}
          ]},
          "mark": {"type": "text", "align": "center", "baseline": "middle"},
          "encoding": {
            "x": {"field": "z", "type": "quantitative", "scale": {"domain": [-0.8416, 2.5758], "range": [5, 257], "nice": false, "zero": false},
              "axis": {"orient": "top", "values": [-0.5244, -0.2533, 0, 0.2533, 0.5244, 0.8416, 1.2816, 1.6449, 2.0537], "labels": false, "title": null}},
            "y": {"field": "q", "type": "quantitative", "scale": {"type": "log", "domain": [10, 10000], "nice": false},
              "axis": {"orient": "right", "values": [20, 50, 100, 200, 500, 1000, 2000, 5000], "labels": false, "title": null}},
            "text": {"field": "label"}
          }
        }
      ],
      "resolve": {"axis": {"x": "independent", "y": "independent"}}
    }
  ],
  "config": {
    "view": {"stroke": null},
    "axis": {"domain": false, "grid": false, "ticks": true, "tickColor": "black", "tickWidth": 2.5, "tickSize": -9, "labelFont": "Liberation Serif", "labelFontSize": 15.5, "labelColor": "black", "labelOverlap": false, "labelFlush": false, "labelBound": false, "titleColor": "black", "titleFontWeight": "normal"},
    "axisBottom": {"labelBaseline": "middle", "labelPadding": 34, "titleFont": "Liberation Serif", "titleFontSize": 24, "titleLineHeight": 28.3, "titleBaseline": "alphabetic", "titleY": 75},
    "axisLeft": {"labelPadding": 24, "labelOffset": 4, "titleFont": "Liberation Sans", "titleFontSize": 20.5, "titleX": -70, "titleY": 321, "titleBaseline": "middle", "titleAngle": 270},
    "line": {"color": "black", "strokeWidth": 2.4, "interpolate": "monotone"},
    "text": {"font": "Liberation Serif", "fontSize": 21, "color": "black"},
    "point": {"color": "black"}
  }
}
